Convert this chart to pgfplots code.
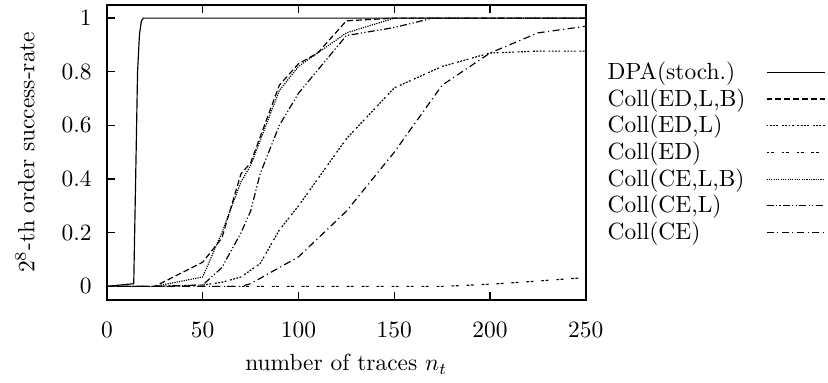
\documentclass[border=0pt]{standalone}
\usepackage{pgfplots}
\pgfplotsset{compat=1.18}
\begin{document}
\begin{tikzpicture}
\begin{axis}[
  scale only axis,
  width=204.5pt, height=126pt,
  xmin=0, xmax=250, ymin=-0.05, ymax=1.05,
  xtick={0,50,100,150,200,250},
  ytick={0,0.2,0.4,0.6,0.8,1},
  yticklabel style={/pgf/number format/fixed, xshift=-3pt},
  xticklabel style={yshift=-6pt},
  tick align=inside,
  xtick pos=both, ytick pos=left,
  major tick length=3.5pt,
  axis line style={line width=0.8pt},
  every tick/.style={black, line width=0.6pt},
  xlabel={number of traces $n_t$},
  xlabel style={yshift=-0.5pt},
  ylabel={$2^8$-th order success-rate},
  ylabel style={yshift=4.7pt},
  legend plot pos=right,
  legend cell align=left,
  legend image code/.code={\draw[#1] (0pt,0pt) -- (25pt,0pt);},
  legend style={draw=none, fill=none, inner xsep=1pt, at={(1.03,0.84)}, anchor=north west,
    row sep=-1.6pt,
    /tikz/every odd column/.append style={column sep=6.7pt}},
  every axis plot/.append style={black, line width=0.5pt},
]
\addplot[solid] coordinates {(0,0) (14,0.01) (15,0.4) (16,0.8) (17,0.94) (18,0.99) (19,1) (250,1)};
\addlegendentry{DPA(stoch.)}
\addplot[dash pattern=on 2.5pt off 1.3pt] coordinates {(0,0) (25,0) (50,0.09) (60,0.18) (70,0.42) (75,0.46) (90,0.75) (100,0.83) (110,0.87) (125,0.99) (150,1) (250,1)};
\addlegendentry{Coll(ED,L,B)}
\addplot[dash pattern=on 0.8pt off 0.6pt on 0.8pt off 0.6pt on 0.8pt off 0.6pt on 0.8pt off 1.6pt] coordinates {(0,0) (25,0) (50,0.005) (60,0.015) (70,0.035) (80,0.085) (90,0.21) (100,0.3) (125,0.55) (150,0.74) (175,0.82) (200,0.87) (225,0.877) (250,0.877)};
\addlegendentry{Coll(ED,L)}
\addplot[dash pattern=on 1.2pt off 0.6pt on 1.2pt off 3.4pt] coordinates {(0,0) (175,0) (200,0.008) (225,0.02) (250,0.033)};
\addlegendentry{Coll(ED)}
\addplot[dash pattern=on 0.5pt off 0.5pt] coordinates {(0,0) (25,0) (50,0.035) (60,0.2) (70,0.39) (75,0.45) (90,0.73) (100,0.82) (110,0.87) (125,0.945) (150,1) (250,1)};
\addlegendentry{Coll(CE,L,B)}
\addplot[dash pattern=on 3pt off 1pt on 0.5pt off 1pt on 0.5pt off 1pt] coordinates {(0,0) (25,0) (50,0.005) (60,0.07) (70,0.2) (75,0.28) (80,0.42) (90,0.6) (100,0.72) (125,0.935) (150,0.965) (170,1) (250,1)};
\addlegendentry{Coll(CE,L)}
\addplot[dash pattern=on 3pt off 1.5pt on 0.5pt off 1.5pt] coordinates {(0,0) (50,0) (70,0) (75,0.01) (100,0.11) (125,0.28) (150,0.5) (175,0.75) (200,0.87) (225,0.945) (250,0.97)};
\addlegendentry{Coll(CE)}
\end{axis}
\path (current bounding box.west) ++(-3.2pt,0) coordinate (padL);
\path (current bounding box.north) ++(0,1.2pt) coordinate (padT);
\end{tikzpicture}
\end{document}
